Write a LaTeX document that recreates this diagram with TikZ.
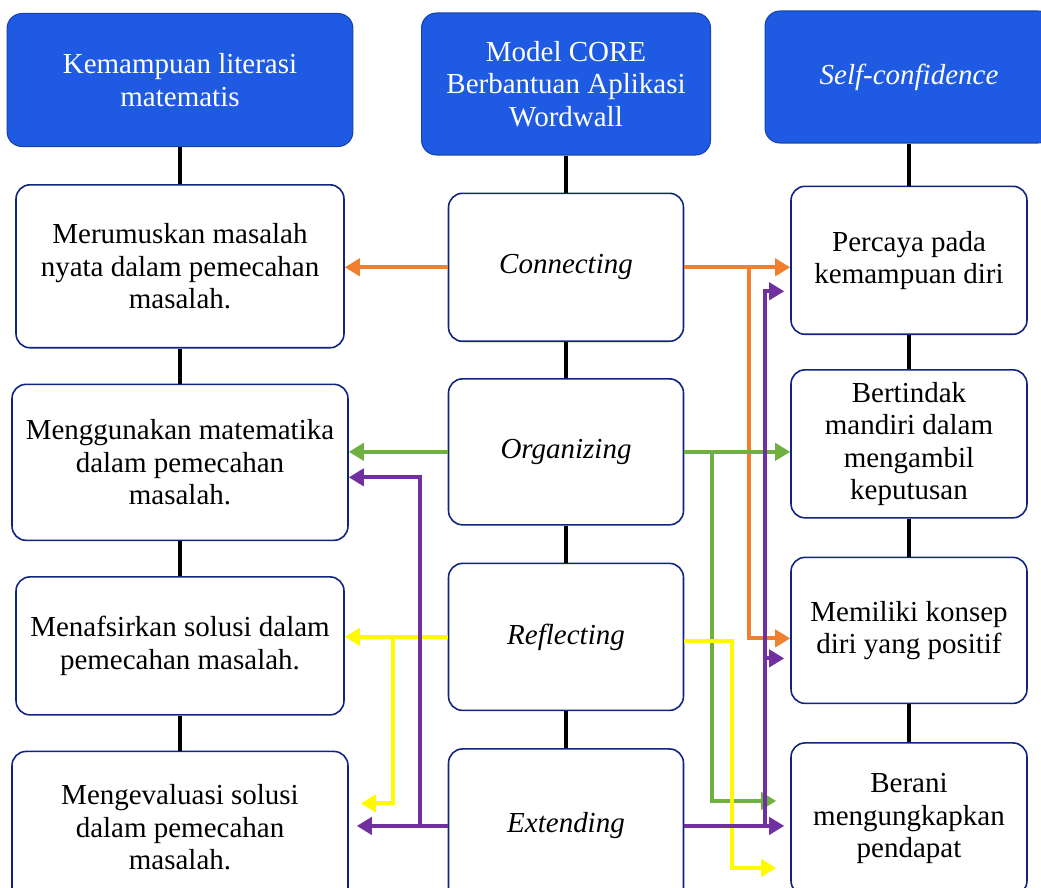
\documentclass[tikz,border=0pt]{standalone}
\usepackage{fontspec}
\setmainfont{Liberation Serif}
\usetikzlibrary{arrows.meta, positioning}

\definecolor{headblue}{RGB}{31,91,226}
\definecolor{boxline}{RGB}{14,36,128}
\definecolor{arrorange}{RGB}{240,128,48}
\definecolor{arrgreen}{RGB}{112,176,64}
\definecolor{arryellow}{RGB}{255,250,0}
\definecolor{arrpurple}{RGB}{112,48,160}

\begin{document}
\begin{tikzpicture}[
        x=0.02cm, y=-0.02cm,
        >={Triangle[length=0.3cm, width=0.34cm]},
        node distance=0.7cm,
        font=\fontsize{16.5}{18.5}\selectfont,
        head/.style={rectangle, rounded corners=0.3cm, draw=headblue!75!black, line width=0.6pt, fill=headblue, text=white, align=center},
        box/.style={rectangle, rounded corners=0.28cm, draw=boxline, line width=0.9pt, fill=white, align=center},
        link/.style={line width=0.08cm},
        arr/.style={->, line width=0.08cm}
    ]

    \useasboundingbox (0,0) rectangle (1041,887);
    \clip (0,0) rectangle (1041,887);

    % header boxes
    \node (hL) [head, minimum width=6.92cm, minimum height=2.66cm] at (180,80) {Kemampuan literasi\\matematis};
    \node (hM) [head, minimum width=5.78cm, minimum height=2.84cm] at (566,84) {Model CORE\\Berbantuan Aplikasi\\Wordwall};
    \node (hR) [head, minimum width=5.76cm, minimum height=2.64cm] at (909,77) {\textit{Self-confidence}};

    % literasi matematis
    \node (L1) [box, below=0.74cm of hL, minimum width=6.56cm, minimum height=3.26cm] {Merumuskan masalah\\nyata dalam pemecahan\\masalah.};
    \node (L2) [box, below=of L1, minimum width=6.72cm, minimum height=3.12cm] {Menggunakan matematika\\dalam pemecahan\\masalah.};
    \node (L3) [box, below=of L2, minimum width=6.56cm, minimum height=2.76cm] {Menafsirkan solusi dalam\\pemecahan masalah.};
    \node (L4) [box, below=of L3, minimum width=6.72cm, minimum height=3.04cm] {Mengevaluasi solusi\\dalam pemecahan\\masalah.};

    % CORE
    \node (M1) [box, below=0.74cm of hM, minimum width=4.7cm, minimum height=2.96cm] {\textit{Connecting}};
    \node (M2) [box, below=0.72cm of M1, minimum width=4.7cm, minimum height=2.92cm] {\textit{Organizing}};
    \node (M3) [box, below=0.74cm of M2, minimum width=4.7cm, minimum height=2.94cm] {\textit{Reflecting}};
    \node (M4) [box, below=0.74cm of M3, minimum width=4.7cm, minimum height=3.08cm] {\textit{Extending}};

    % self-confidence
    \node (R1) [box, below=0.84cm of hR, minimum width=4.72cm, minimum height=2.96cm] {Percaya pada\\kemampuan diri};
    \node (R2) [box, below=0.68cm of R1, minimum width=4.72cm, minimum height=2.96cm] {Bertindak\\mandiri dalam\\mengambil\\keputusan};
    \node (R3) [box, below=0.76cm of R2, minimum width=4.72cm, minimum height=2.92cm] {Memiliki konsep\\diri yang positif};
    \node (R4) [box, below=0.76cm of R3, minimum width=4.72cm, minimum height=3.04cm] {Berani\\mengungkapkan\\pendapat};

    \draw [link] (hL) -- (L1) (L1) -- (L2) (L2) -- (L3) (L3) -- (L4);
    \draw [link] (hM) -- (M1) (M1) -- (M2) (M2) -- (M3) (M3) -- (M4);
    \draw [link] (hR) -- (R1) (R1) -- (R2) (R2) -- (R3) (R3) -- (R4);

    % branch lines
    \coordinate (oX) at (749,0);
    \coordinate (gX) at (712,0);
    \coordinate (yX) at (732,0);
    \coordinate (pX) at (765,0);
    \coordinate (yL) at (393,0);
    \coordinate (pL) at (420,0);

    % connecting
    \draw [arr, arrorange] (M1.west) -- (M1.west -| L1.east);
    \draw [arr, arrorange] (M1.east) -- (M1.east -| R1.west);
    \draw [arr, arrorange] (M1.east -| oX) |- ([yshift=-0.16cm]R3.west);

    % organizing
    \draw [arr, arrgreen] (M2.west) -- (M2.west -| L2.east);
    \draw [arr, arrgreen] (M2.east) -- (M2.east -| R2.west);
    \draw [arr, arrgreen, shorten >=0.28cm] (M2.east -| gX) |- ([yshift=0.36cm]R4.west);

    % reflecting
    \draw [arr, arryellow] (M3.west) -- (M3.west -| L3.east);
    \draw [arr, arryellow, shorten >=0.24cm] (M3.west -| yL) |- ([yshift=0.48cm]L4.east);
    \draw [arr, arryellow, shorten >=0.28cm] ([yshift=-0.08cm]M3.east) -| (yX |- R4.west) |- ([yshift=-0.98cm]R4.west);

    % extending
    \draw [arr, arrpurple, shorten >=0.16cm] (M4.west) -- (M4.west -| L4.east);
    \draw [arr, arrpurple] (M4.west -| pL) |- ([yshift=-0.3cm]L2.east);
    \draw [arr, arrpurple, shorten >=0.12cm] (M4.east) -- (M4.east -| R4.west);
    \draw [arr, arrpurple, shorten >=0.12cm] (M4.east -| pX) |- ([yshift=-0.62cm]R1.west);
    \draw [arr, arrpurple, shorten >=0.12cm] (M4.east -| pX) |- ([yshift=-0.56cm]R3.west);

\end{tikzpicture}
\end{document}
